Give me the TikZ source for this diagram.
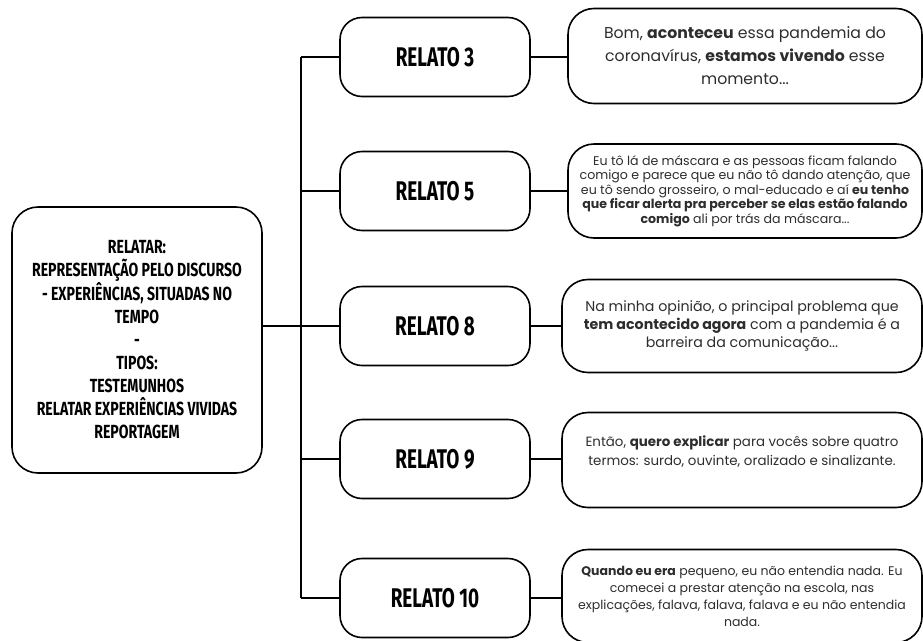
\documentclass[tikz,border=0pt]{standalone}
\usepackage{fontspec}
\setmainfont{Poppins}
\newfontfamily\headfont[FakeStretch=0.7]{Fira Sans}
\newfontfamily\sidefont[FakeStretch=0.74]{Fira Sans}
\definecolor{quotegray}{RGB}{45,45,45}

\begin{document}
\begin{tikzpicture}[x=1pt, y=-1pt, line width=1.6pt,
    relato/.style={draw, rounded corners=22pt, minimum width=190pt, minimum height=79pt,
        font=\headfont\bfseries\fontsize{27}{30}\selectfont},
    quote/.style={draw, rounded corners=26pt, align=center, text=quotegray}]
    \useasboundingbox (0,0) rectangle (923,640);
    \clip (0,0) rectangle (923,640);

    % Left box
    \node[draw, rounded corners=26pt, minimum width=250pt, minimum height=266pt, align=center,
        font=\sidefont\bfseries\fontsize{19}{23}\selectfont] (relatar) at (137,340)
        {RELATAR:\\ REPRESENTAÇÃO PELO DISCURSO\\ - EXPERIÊNCIAS, SITUADAS NO\\ TEMPO\\ -\\
         TIPOS:\\ TESTEMUNHOS\\ RELATAR EXPERIÊNCIAS VIVIDAS\\ REPORTAGEM};

    % Relato boxes
    \foreach \n/\y in {3/57,5/191,8/326,9/459,10/598} {
        \node[relato] (relato\n) at (435,\y) {RELATO \n};
    }

    % Quotes
    \node[quote, minimum width=354pt, minimum height=95pt, font=\fontsize{15.7}{23}\selectfont]
        (quote3) at (745,56)
        {\rule{0pt}{8pt}Bom, \textbf{aconteceu} essa pandemia do\\ coronavírus, \textbf{estamos vivendo} esse\\ momento...};
    \node[quote, minimum width=354pt, minimum height=94pt, font=\fontsize{12.6}{14.5}\selectfont]
        (quote5) at (745,191)
        {Eu tô lá de máscara e as pessoas ficam falando\\ comigo e parece que eu não tô dando atenção, que\\
         eu tô sendo grosseiro, o mal-educado e aí \textbf{eu tenho}\\
         \textbf{que ficar alerta pra perceber se elas estão falando}\\ \textbf{comigo} ali por trás da máscara...};
    \node[quote, minimum width=360pt, minimum height=93pt, font=\fontsize{14.2}{18}\selectfont]
        (quote8) at (742,326)
        {Na minha opinião, o principal problema que\\ \textbf{tem acontecido agora} com a pandemia é a\\ barreira da comunicação...};
    \node[quote, minimum width=360pt, minimum height=95pt, font=\fontsize{13.4}{19}\selectfont]
        (quote9) at (742,460)
        {Então, \textbf{quero explicar} para vocês sobre quatro\\ termos: surdo, ouvinte, oralizado e sinalizante.\\ \mbox{}};
    \node[quote, minimum width=360pt, minimum height=93pt, font=\fontsize{12.5}{17}\selectfont]
        (quote10) at (742,596)
        {\textbf{Quando eu era} pequeno, eu não entendia nada. Eu\\ comecei a prestar atenção na escola, nas\\
         explicações, falava, falava, falava e eu não entendia\\ nada.};

    % Connectors
    \coordinate (spine) at (301,0);
    \draw (relatar.east |- relato8.west) -- (relato8.west);
    \draw (spine |- relato3.west) -- (spine |- relato10.west);
    \foreach \n in {3,5,9,10} {
        \draw (spine |- relato\n.west) -- (relato\n.west);
    }
    \foreach \n in {3,5,8,9,10} {
        \draw (relato\n.east) -- (relato\n.east -| quote\n.west);
    }
\end{tikzpicture}
\end{document}
